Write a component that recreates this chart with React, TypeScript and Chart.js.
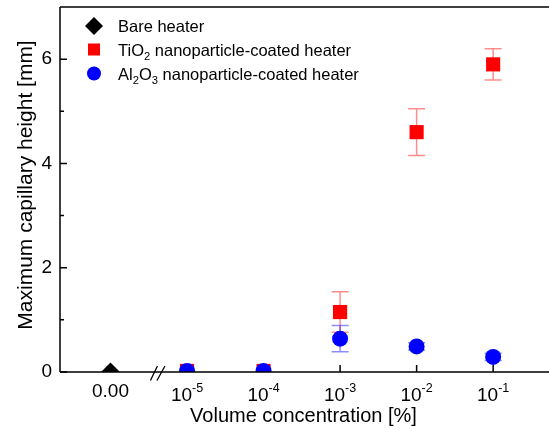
import React, { useEffect, useRef } from 'react';
import { Chart, registerables } from 'chart.js';

Chart.register(...registerables);

// ---- Data ----
const concLabels = ['0.00', '10', '10', '10', '10', '10'];
const concExponents = ['', '-5', '-4', '-3', '-2', '-1'];
const concPositions = [0, 1, 2, 3, 4, 5];
const barePositions = [0];
const bareValues = [0];
const coatedPositions = [1, 2, 3, 4, 5];
const tio2Values = [0.02, 0.02, 1.15, 4.6, 5.9];
const tio2Errors = [0, 0, 0.39, 0.45, 0.3];
const al2o3Values = [0.02, 0.02, 0.64, 0.49, 0.29];
const al2o3Errors = [0, 0, 0.25, 0.07, 0.07];
const yMajorTicks = [0, 2, 4, 6];
const yMinorTicks = [1, 3, 5];
const axisBreakPosition = 0.62;
const xMin = -0.66;
const xMax = 5.73;
const yMin = 0;
const yMax = 7;
const seriesNames = ['Bare heater', 'TiO|2| nanoparticle-coated heater', 'Al|2|O|3| nanoparticle-coated heater'];
const xTitle = 'Volume concentration [%]';
const yTitle = 'Maximum capillary height [mm]';

const FONT = 'Arial, "Liberation Sans", Helvetica, sans-serif';
const RED = '#ff0000';
const BLUE = '#0000ff';

function drawSubText(ctx: CanvasRenderingContext2D, text: string, x: number, y: number, size: number) {
  // segments separated by | ; odd segments are subscripts
  const parts = text.split('|');
  let cx = x;
  parts.forEach((p, i) => {
    if (i % 2 === 1) {
      ctx.font = `${size * 0.68}px ${FONT}`;
      ctx.fillText(p, cx, y + size * 0.28);
    } else {
      ctx.font = `${size}px ${FONT}`;
      ctx.fillText(p, cx, y);
    }
    cx += ctx.measureText(p).width;
  });
}

const decorPlugin = {
  id: 'decor',
  beforeDatasetsDraw(chart: any) {
    const { ctx, chartArea: a } = chart;
    const xs = chart.scales.x;
    const ys = chart.scales.y;
    ctx.save();
    // inward ticks
    ctx.strokeStyle = '#000';
    ctx.lineWidth = 1.5;
    ctx.beginPath();
    yMajorTicks.forEach((v) => {
      const p = ys.getPixelForValue(v);
      ctx.moveTo(a.left, p);
      ctx.lineTo(a.left + 7, p);
    });
    yMinorTicks.forEach((v) => {
      const p = ys.getPixelForValue(v);
      ctx.moveTo(a.left, p);
      ctx.lineTo(a.left + 4, p);
    });
    concPositions.forEach((v) => {
      const p = xs.getPixelForValue(v);
      ctx.moveTo(p, a.bottom);
      ctx.lineTo(p, a.bottom - 7);
    });
    ctx.stroke();

    // error bars
    const drawErr = (vals: number[], errs: number[], color: string) => {
      ctx.strokeStyle = color;
      ctx.lineWidth = 1.5;
      vals.forEach((v, i) => {
        const e = errs[i];
        if (!e) return;
        const px = xs.getPixelForValue(coatedPositions[i]);
        const top = ys.getPixelForValue(v + e);
        const bot = ys.getPixelForValue(v - e);
        ctx.beginPath();
        ctx.moveTo(px, top);
        ctx.lineTo(px, bot);
        ctx.moveTo(px - 8.5, top);
        ctx.lineTo(px + 8.5, top);
        ctx.moveTo(px - 8.5, bot);
        ctx.lineTo(px + 8.5, bot);
        ctx.stroke();
      });
    };
    drawErr(tio2Values, tio2Errors, 'rgba(255,0,0,0.45)');
    drawErr(al2o3Values, al2o3Errors, 'rgba(0,0,255,0.45)');
    ctx.restore();
  },
  afterDraw(chart: any) {
    const { ctx, chartArea: a, width } = chart;
    const xs = chart.scales.x;
    ctx.save();
    ctx.strokeStyle = '#000';
    ctx.lineWidth = 1.5;
    ctx.lineCap = 'butt';
    ctx.beginPath();
    // top frame line and bottom axis run out of the picture on the right
    ctx.moveTo(a.left, a.top);
    ctx.lineTo(width + 5, a.top);
    ctx.moveTo(a.left, a.top);
    ctx.lineTo(a.left, a.bottom);
    ctx.moveTo(a.left, a.bottom);
    ctx.lineTo(width + 5, a.bottom);
    ctx.stroke();

    // axis break
    const bx = xs.getPixelForValue(axisBreakPosition);
    ctx.lineWidth = 1.3;
    ctx.beginPath();
    ctx.moveTo(bx - 7.5, a.bottom + 8.5);
    ctx.lineTo(bx - 0.5, a.bottom - 6);
    ctx.moveTo(bx - 1, a.bottom + 8.5);
    ctx.lineTo(bx + 7, a.bottom - 6);
    ctx.stroke();

    // x tick labels
    ctx.fillStyle = '#000';
    ctx.textBaseline = 'alphabetic';
    ctx.textAlign = 'left';
    concPositions.forEach((v, i) => {
      const px = xs.getPixelForValue(v);
      const main = concLabels[i];
      const sup = concExponents[i];
      ctx.font = `19px ${FONT}`;
      const wMain = ctx.measureText(main).width;
      ctx.font = `12.5px ${FONT}`;
      const wSup = sup ? ctx.measureText(sup).width : 0;
      const start = px - (wMain + wSup) / 2;
      ctx.font = `19px ${FONT}`;
      if (sup) {
        ctx.fillText(main, start, a.bottom + 29);
        ctx.font = `12.5px ${FONT}`;
        ctx.fillText(sup, start + wMain, a.bottom + 20);
      } else {
        ctx.fillText(main, start, a.bottom + 25);
      }
    });

    // axis titles
    ctx.font = `20px ${FONT}`;
    ctx.textAlign = 'center';
    ctx.fillText(xTitle, (a.left + a.right) / 2 + 2, a.bottom + 50);
    ctx.save();
    ctx.font = `21px ${FONT}`;
    ctx.translate(a.left - 28, a.top + 178);
    ctx.rotate(-Math.PI / 2);
    ctx.fillText(yTitle, 0, 0);
    ctx.restore();

    // legend
    ctx.textAlign = 'left';
    const lx = a.left + 34;
    const ly = [a.top + 19, a.top + 42.5, a.top + 66.5];
    // diamond
    ctx.fillStyle = '#000';
    ctx.beginPath();
    ctx.moveTo(lx, ly[0] - 9);
    ctx.lineTo(lx + 9, ly[0]);
    ctx.lineTo(lx, ly[0] + 9);
    ctx.lineTo(lx - 9, ly[0]);
    ctx.closePath();
    ctx.fill();
    // square
    ctx.fillStyle = RED;
    ctx.fillRect(lx - 6, ly[1] - 6, 12, 12);
    // circle
    ctx.fillStyle = BLUE;
    ctx.beginPath();
    ctx.arc(lx, ly[2], 7, 0, Math.PI * 2);
    ctx.fill();
    ctx.fillStyle = '#000';
    seriesNames.forEach((name, i) => {
      drawSubText(ctx, name, lx + 24, ly[i] + 6, 16.5);
    });
    ctx.restore();
  },
};

export default function App() {
  const canvasRef = useRef<HTMLCanvasElement | null>(null);

  useEffect(() => {
    if (!canvasRef.current) return;
    const chart = new Chart(canvasRef.current, {
      type: 'scatter',
      data: {
        datasets: [
          {
            label: seriesNames[0],
            data: bareValues.map((v, i) => ({ x: barePositions[i], y: v })),
            pointStyle: 'rectRot',
            pointRadius: 9.5,
            pointHoverRadius: 9.5,
            backgroundColor: '#000',
            borderWidth: 0,
            showLine: false,
            clip: 0,
            order: 0,
          },
          {
            label: seriesNames[1],
            data: tio2Values.map((v, i) => ({ x: coatedPositions[i], y: v })),
            pointStyle: 'rect',
            pointRadius: 10,
            pointHoverRadius: 10,
            backgroundColor: RED,
            borderWidth: 0,
            showLine: false,
            clip: 0,
            order: 2,
          },
          {
            label: seriesNames[2],
            data: al2o3Values.map((v, i) => ({ x: coatedPositions[i], y: v })),
            pointStyle: 'circle',
            pointRadius: 8,
            pointHoverRadius: 8,
            backgroundColor: BLUE,
            borderWidth: 0,
            showLine: false,
            clip: 0,
            order: 1,
          },
        ] as any,
      },
      options: {
        animation: false,
        responsive: false,
        devicePixelRatio: 1,
        events: [],
        layout: { autoPadding: false, padding: { top: 7, left: 0, right: 6, bottom: 0 } },
        plugins: {
          legend: { display: false },
          tooltip: { enabled: false },
        },
        scales: {
          x: {
            type: 'linear',
            min: xMin,
            max: xMax - 6 / 76.5,
            grid: { display: false },
            border: { display: false },
            ticks: { display: false },
            afterFit: (scale: any) => {
              scale.height = 57;
              scale.paddingLeft = 0;
              scale.paddingRight = 0;
              scale.paddingTop = 0;
              scale.paddingBottom = 0;
            },
          },
          y: {
            type: 'linear',
            min: yMin,
            max: yMax,
            grid: { display: false, drawTicks: false },
            border: { display: false },
            ticks: {
              padding: 8,
              color: '#000',
              font: { size: 19, family: FONT },
            },
            afterBuildTicks: (scale: any) => {
              scale.ticks = yMajorTicks.map((v) => ({ value: v }));
            },
            afterFit: (scale: any) => {
              scale.width = 60;
              scale.paddingLeft = 0;
              scale.paddingRight = 0;
              scale.paddingTop = 0;
              scale.paddingBottom = 0;
            },
          },
        },
      } as any,
      plugins: [decorPlugin],
    });
    return () => chart.destroy();
  }, []);

  return (
    <canvas
      ref={canvasRef}
      width={549}
      height={429}
      style={{ position: 'absolute', left: 0, top: 0, display: 'block', background: '#fff' }}
    />
  );
}
